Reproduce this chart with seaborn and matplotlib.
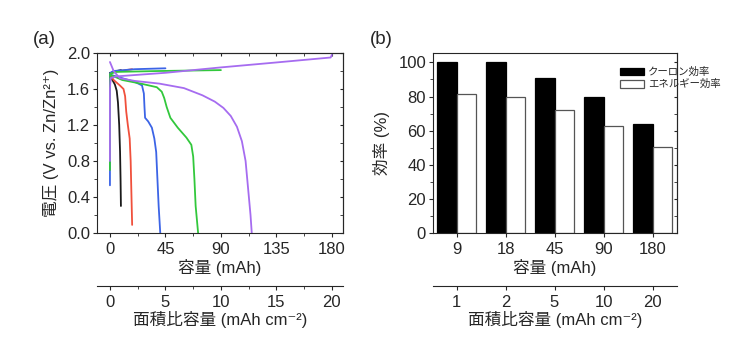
import matplotlib
matplotlib.use("Agg")
import matplotlib.pyplot as plt
from matplotlib.ticker import MultipleLocator
import pandas as pd
import seaborn as sns

# (a) charge / discharge curves, capacity (mAh) vs voltage (V)
cells = ["9", "18", "45", "90", "180"]
line_colors = ["#1a1a1a", "#f0503c", "#3c64e6", "#32c83c", "#a66cf0"]

black_chg_x = [0, 0, 0.3, 2, 9]
black_chg_y = [1.15, 1.6, 1.76, 1.79, 1.81]
black_dis_x = [0, 2, 4, 5.5, 6.5, 7.5, 8.2, 8.6, 8.9]
black_dis_y = [1.78, 1.70, 1.65, 1.58, 1.45, 1.2, 0.9, 0.6, 0.3]

red_chg_x = [0, 0, 0.3, 3, 18]
red_chg_y = [0.95, 1.6, 1.77, 1.79, 1.82]
red_dis_x = [0, 3, 8, 11, 12.3, 13.2, 14.5, 16, 16.8, 17.3, 18]
red_dis_y = [1.76, 1.70, 1.64, 1.60, 1.52, 1.35, 1.2, 1.05, 0.8, 0.5, 0.09]

blue_chg_x = [0, 0, 0.3, 3, 20, 45]
blue_chg_y = [0.53, 1.6, 1.78, 1.80, 1.82, 1.83]
blue_dis_x = [0, 10, 20, 26, 27.5, 28, 28.5, 31, 34, 36, 37.5, 38.5, 39.5, 40.8]
blue_dis_y = [1.76, 1.72, 1.68, 1.64, 1.55, 1.40, 1.28, 1.24, 1.17, 1.05, 0.9, 0.6, 0.3, 0.0]

green_chg_x = [0, 0, 0.3, 5, 40, 90]
green_chg_y = [0.70, 1.6, 1.77, 1.79, 1.80, 1.81]
green_dis_x = [0, 10, 25, 38, 42, 44, 46, 49, 55, 62, 66, 67.5, 68.5, 69.5, 71.5]
green_dis_y = [1.76, 1.70, 1.66, 1.62, 1.57, 1.50, 1.40, 1.28, 1.17, 1.06, 0.98, 0.85, 0.6, 0.3, 0.0]

purple_chg_x = [0, 0, 0.5, 5, 45, 90, 135, 179, 180]
purple_chg_y = [0.8, 1.6, 1.72, 1.74, 1.78, 1.84, 1.895, 1.95, 1.98]
purple_dis_x = [0, 3, 8, 20, 40, 60, 75, 85, 92, 98, 103, 107, 110, 112, 114, 115]
purple_dis_y = [1.90, 1.80, 1.72, 1.69, 1.66, 1.61, 1.53, 1.46, 1.39, 1.30, 1.18, 1.02, 0.8, 0.5, 0.2, 0.0]

# (b) efficiencies
capacity_labels = ["9", "18", "45", "90", "180"]
areal_labels = ["1", "2", "5", "10", "20"]
coulombic_eff = [100, 100, 91, 80, 64]
energy_eff = [81.5, 79.5, 72, 62.5, 50.5]
series_names = ["クーロン効率", "エネルギー効率"]

sns.set_style("ticks")
plt.rcParams["font.family"] = ["Liberation Sans", "Noto Sans CJK JP", "DejaVu Sans"]
plt.rcParams["axes.linewidth"] = 0.8

curves = {
    "9": [(black_chg_x, black_chg_y), (black_dis_x, black_dis_y)],
    "18": [(red_chg_x, red_chg_y), (red_dis_x, red_dis_y)],
    "45": [(blue_chg_x, blue_chg_y), (blue_dis_x, blue_dis_y)],
    "90": [(green_chg_x, green_chg_y), (green_dis_x, green_dis_y)],
    "180": [(purple_chg_x, purple_chg_y), (purple_dis_x, purple_dis_y)],
}
rows = []
for cell, segs in curves.items():
    for k, (xs, ys) in enumerate(segs):
        for x, y in zip(xs, ys):
            rows.append({"cell": cell, "seg": f"{cell}_{k}", "cap": x, "volt": y})
line_df = pd.DataFrame(rows)

bar_df = pd.DataFrame({
    "capacity": capacity_labels * 2,
    "eff": coulombic_eff + energy_eff,
    "kind": [series_names[0]] * 5 + [series_names[1]] * 5,
})

fig = plt.figure(figsize=(7.4, 3.57), dpi=100)
ax1 = fig.add_axes([97 / 740, 1 - 233 / 357, 246 / 740, 180 / 357])
ax2 = fig.add_axes([433 / 740, 1 - 233 / 357, 244 / 740, 180 / 357])

fs = 12
# ---- panel (a)
sns.lineplot(data=line_df, x="cap", y="volt", hue="cell", units="seg", estimator=None,
             sort=False, palette=line_colors, hue_order=cells, lw=1.3, legend=False, ax=ax1)
ax1.set_xlim(-10.5, 189)
ax1.set_ylim(0, 2.0)
ax1.set_xticks([0, 45, 90, 135, 180])
ax1.xaxis.set_minor_locator(MultipleLocator(22.5))
ax1.set_yticks([0, 0.4, 0.8, 1.2, 1.6, 2.0])
ax1.set_yticklabels(["0.0", "0.4", "0.8", "1.2", "1.6", "2.0"])
ax1.yaxis.set_minor_locator(MultipleLocator(0.2))
ax1.tick_params(axis="x", which="both", direction="out", labelsize=fs, pad=3.5)
ax1.tick_params(axis="y", which="both", direction="out", labelsize=fs, pad=2)
ax1.tick_params(which="major", length=3)
ax1.tick_params(which="minor", length=2)
ax1.set_xlabel("容量 (mAh)", fontsize=fs, labelpad=1.5)
ax1.set_ylabel("電圧 (V vs. Zn/Zn²⁺)", fontsize=fs, labelpad=6)
for spine in ax1.spines.values():
    spine.set_visible(True)

top1 = ax1.secondary_xaxis("top")
top1.set_xticks([0, 45, 90, 135, 180], labels=[])
top1.xaxis.set_minor_locator(MultipleLocator(22.5))
top1.tick_params(which="both", direction="in", length=2)
right1 = ax1.secondary_yaxis("right")
right1.set_yticks([0, 0.4, 0.8, 1.2, 1.6, 2.0], labels=[])
right1.yaxis.set_minor_locator(MultipleLocator(0.2))
right1.tick_params(which="both", direction="in", length=2)

sec1 = ax1.secondary_xaxis(-53 / 180, functions=(lambda v: v / 9, lambda v: v * 9))
sec1.set_xticks([0, 5, 10, 15, 20])
sec1.xaxis.set_minor_locator(MultipleLocator(2.5))
sec1.tick_params(which="both", direction="out", labelsize=fs, pad=3.5)
sec1.tick_params(which="major", length=3)
sec1.tick_params(which="minor", length=2)
sec1.set_xlabel("面積比容量 (mAh cm⁻²)", fontsize=fs, labelpad=0.5)

# ---- panel (b)
sns.barplot(data=bar_df, x="capacity", y="eff", hue="kind", order=capacity_labels,
            hue_order=series_names, palette=["black", "white"], width=0.8,
            linewidth=0.9, ax=ax2)
for bar, kind in zip(ax2.patches, [0] * 5 + [1] * 5):
    bar.set_edgecolor("black" if kind == 0 else "#555555")
ax2.set_xlim(-0.48, 4.5)
ax2.set_ylim(0, 105.5)
ax2.set_yticks([0, 20, 40, 60, 80, 100])
ax2.yaxis.set_minor_locator(MultipleLocator(10))
ax2.tick_params(axis="x", which="both", direction="out", labelsize=fs, pad=3.5)
ax2.tick_params(axis="y", which="both", direction="out", labelsize=fs, pad=2)
ax2.tick_params(which="major", length=3)
ax2.tick_params(which="minor", length=2)
ax2.set_xlabel("容量 (mAh)", fontsize=fs, labelpad=1.5)
ax2.set_ylabel("効率 (%)", fontsize=fs, labelpad=6)
for spine in ax2.spines.values():
    spine.set_visible(True)

right2 = ax2.secondary_yaxis("right")
right2.set_yticks([0, 20, 40, 60, 80, 100], labels=[])
right2.yaxis.set_minor_locator(MultipleLocator(10))
right2.tick_params(which="both", direction="in", length=2)

sec2 = ax2.secondary_xaxis(-53 / 180)
sec2.set_xticks(range(5), labels=areal_labels)
sec2.tick_params(direction="out", length=3, labelsize=fs, pad=3.5)
sec2.set_xlabel("面積比容量 (mAh cm⁻²)", fontsize=fs, labelpad=0.5)

handles, labels = ax2.get_legend_handles_labels()
leg = ax2.legend(handles, labels, loc="upper left", bbox_to_anchor=(618 / 740, 1 - 65 / 357),
                 bbox_transform=fig.transFigure, frameon=False, fontsize=7.5,
                 handlelength=2.3, handleheight=0.75, handletextpad=0.4, labelspacing=0.2,
                 borderpad=0.2, borderaxespad=0)
for h, ec in zip(leg.legend_handles, ["black", "#555555"]):
    h.set_edgecolor(ec)
    h.set_linewidth(0.9)

fig.text(33 / 740, 1 - 39 / 357, "(a)", fontsize=13.5, va="center", ha="left")
fig.text(370 / 740, 1 - 39 / 357, "(b)", fontsize=13.5, va="center", ha="left")

fig.savefig("out.png", dpi=100)
